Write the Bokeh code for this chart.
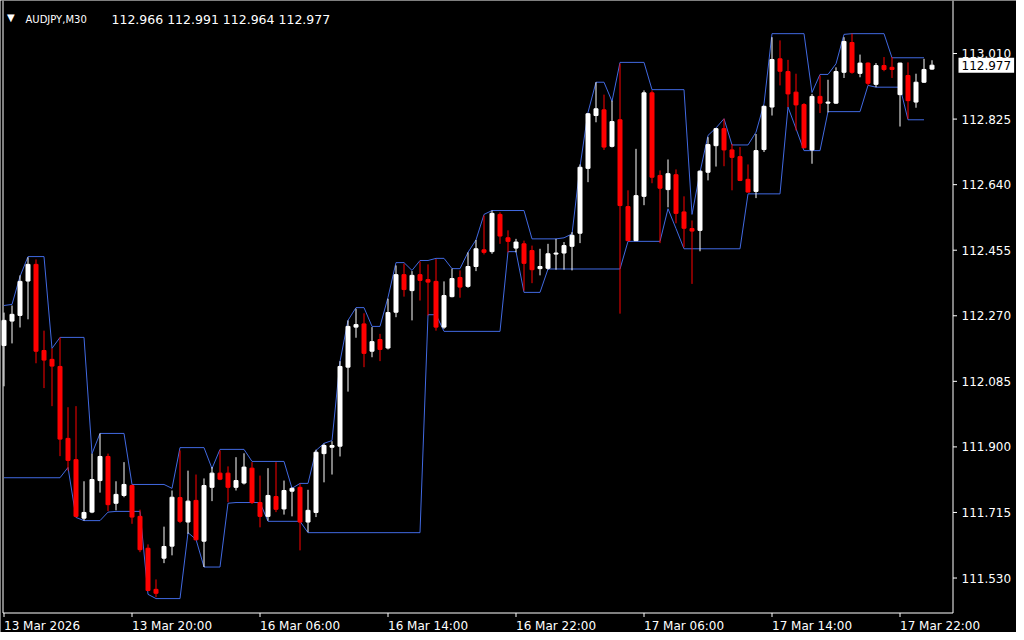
from bokeh.plotting import figure
from bokeh.models import Range1d, Label, ColumnDataSource
from bokeh.embed import file_html
from bokeh.resources import INLINE

symbol = "AUDJPY"
timeframe = "M30"

opens = [112.186, 112.255, 112.271, 112.368, 112.415, 112.172, 112.147, 112.127, 111.924, 111.864,
         111.699, 111.716, 111.805, 111.873, 111.741, 111.763, 111.791, 111.704, 111.614, 111.498,
         111.586, 111.620, 111.757, 111.688, 111.749, 111.634, 111.786, 111.826, 111.826, 111.786,
         111.798, 111.840, 111.743, 111.704, 111.760, 111.725, 111.775, 111.786, 111.688, 111.715,
         111.881, 111.899, 111.902, 112.125, 112.238, 112.247, 112.170, 112.203, 112.179, 112.280,
         112.386, 112.341, 112.386, 112.372, 112.367, 112.238, 112.324, 112.378, 112.353, 112.409,
         112.456, 112.451, 112.556, 112.490, 112.461, 112.473, 112.454, 112.403, 112.404, 112.444,
         112.447, 112.466, 112.503, 112.686, 112.835, 112.851, 112.748, 112.823, 112.578, 112.482,
         112.607, 112.899, 112.666, 112.626, 112.668, 112.563, 112.516, 112.511, 112.675, 112.750,
         112.798, 112.738, 112.719, 112.655, 112.621, 112.739, 112.859, 112.995, 112.959, 112.901,
         112.866, 112.738, 112.889, 112.870, 112.870, 112.957, 113.041, 112.954, 112.983, 112.923,
         112.976, 112.971, 112.894, 112.948, 112.873, 112.929, 112.966]
highs = [112.279, 112.299, 112.384, 112.435, 112.429, 112.228, 112.178, 112.209, 112.012, 112.015,
         111.803, 111.881, 111.938, 111.881, 111.803, 111.857, 111.794, 111.723, 111.625, 111.526,
         111.675, 111.777, 111.890, 111.833, 111.822, 111.811, 111.843, 111.890, 111.845, 111.871,
         111.882, 111.857, 111.819, 111.840, 111.857, 111.805, 111.786, 111.796, 111.779, 111.892,
         111.909, 111.916, 112.142, 112.257, 112.290, 112.277, 112.238, 112.219, 112.318, 112.412,
         112.417, 112.396, 112.423, 112.415, 112.430, 112.367, 112.403, 112.398, 112.449, 112.484,
         112.553, 112.567, 112.562, 112.511, 112.487, 112.482, 112.468, 112.459, 112.473, 112.487,
         112.478, 112.506, 112.697, 112.842, 112.929, 112.894, 112.877, 112.981, 112.624, 112.741,
         112.906, 112.906, 112.680, 112.711, 112.683, 112.607, 112.539, 112.680, 112.774, 112.800,
         112.826, 112.755, 112.746, 112.697, 112.783, 112.863, 113.056, 113.047, 112.992, 112.953,
         112.870, 112.896, 112.948, 112.936, 112.971, 113.056, 113.066, 113.007, 112.985, 112.983,
         113.000, 113.000, 112.984, 112.985, 112.953, 112.995, 112.991]
lows = [112.071, 112.192, 112.237, 112.260, 112.136, 112.066, 112.015, 111.874, 111.833, 111.701,
        111.692, 111.713, 111.771, 111.719, 111.721, 111.758, 111.683, 111.603, 111.493, 111.476,
        111.572, 111.594, 111.685, 111.655, 111.636, 111.561, 111.747, 111.806, 111.744, 111.777,
        111.794, 111.739, 111.673, 111.692, 111.716, 111.709, 111.704, 111.608, 111.659, 111.702,
        111.800, 111.822, 111.873, 112.056, 112.208, 112.125, 112.153, 112.142, 112.175, 112.266,
        112.324, 112.257, 112.313, 112.271, 112.228, 112.233, 112.322, 112.321, 112.349, 112.396,
        112.443, 112.445, 112.473, 112.449, 112.449, 112.341, 112.362, 112.384, 112.400, 112.400,
        112.400, 112.398, 112.475, 112.647, 112.816, 112.738, 112.745, 112.276, 112.481, 112.481,
        112.582, 112.644, 112.475, 112.576, 112.531, 112.463, 112.360, 112.452, 112.652, 112.691,
        112.692, 112.624, 112.650, 112.618, 112.602, 112.732, 112.835, 112.920, 112.859, 112.793,
        112.743, 112.699, 112.842, 112.844, 112.868, 112.941, 112.953, 112.943, 112.920, 112.915,
        112.960, 112.941, 112.804, 112.826, 112.857, 112.927, 112.964]
closes = [112.257, 112.274, 112.367, 112.415, 112.170, 112.145, 112.128, 111.922, 111.862, 111.704,
          111.715, 111.808, 111.873, 111.737, 111.766, 111.794, 111.702, 111.610, 111.495, 111.487,
          111.619, 111.758, 111.690, 111.747, 111.638, 111.791, 111.826, 111.809, 111.786, 111.805,
          111.843, 111.743, 111.704, 111.763, 111.724, 111.777, 111.783, 111.688, 111.721, 111.885,
          111.904, 111.904, 112.127, 112.240, 112.245, 112.164, 112.197, 112.175, 112.279, 112.386,
          112.344, 112.384, 112.370, 112.365, 112.238, 112.327, 112.375, 112.351, 112.409, 112.459,
          112.449, 112.559, 112.495, 112.480, 112.478, 112.418, 112.400, 112.409, 112.445, 112.447,
          112.468, 112.497, 112.689, 112.840, 112.854, 112.746, 112.818, 112.581, 112.482, 112.609,
          112.899, 112.661, 112.630, 112.671, 112.559, 112.517, 112.509, 112.678, 112.753, 112.798,
          112.738, 112.717, 112.652, 112.619, 112.736, 112.861, 112.993, 112.960, 112.896, 112.865,
          112.744, 112.889, 112.870, 112.873, 112.959, 113.044, 112.957, 112.983, 112.926, 112.976,
          112.965, 112.965, 112.983, 112.877, 112.929, 112.965, 112.977]

channel_upper = [112.299, 112.302, 112.381, 112.437, 112.437, 112.437, 112.178, 112.209, 112.209, 112.209,
                 112.209, 111.881, 111.938, 111.938, 111.938, 111.938, 111.794, 111.794, 111.794, 111.794,
                 111.794, 111.783, 111.898, 111.898, 111.898, 111.898, 111.839, 111.893, 111.893, 111.893,
                 111.893, 111.859, 111.859, 111.859, 111.859, 111.859, 111.783, 111.797, 111.797, 111.890,
                 111.910, 111.918, 112.141, 112.257, 112.293, 112.293, 112.240, 112.240, 112.322, 112.420,
                 112.420, 112.398, 112.426, 112.426, 112.432, 112.432, 112.403, 112.403, 112.449, 112.484,
                 112.556, 112.567, 112.567, 112.567, 112.567, 112.567, 112.487, 112.487, 112.487, 112.487,
                 112.490, 112.501, 112.691, 112.844, 112.929, 112.929, 112.875, 112.985, 112.985, 112.985,
                 112.985, 112.908, 112.908, 112.908, 112.908, 112.908, 112.556, 112.675, 112.779, 112.800,
                 112.826, 112.752, 112.752, 112.752, 112.788, 112.868, 113.066, 113.066, 113.066, 113.066,
                 113.066, 112.900, 112.951, 112.951, 112.981, 113.064, 113.066, 113.066, 113.066, 113.066,
                 113.066, 112.998, 112.998, 112.998, 112.998, 112.998]
channel_lower = [111.813, 111.813, 111.813, 111.813, 111.813, 111.813, 111.813, 111.813, 111.842, 111.701,
                 111.692, 111.692, 111.692, 111.716, 111.718, 111.718, 111.718, 111.718, 111.484, 111.472,
                 111.472, 111.472, 111.472, 111.658, 111.639, 111.561, 111.561, 111.561, 111.741, 111.743,
                 111.743, 111.743, 111.743, 111.690, 111.690, 111.690, 111.690, 111.690, 111.658, 111.658,
                 111.658, 111.658, 111.658, 111.658, 111.658, 111.658, 111.658, 111.658, 111.658, 111.658,
                 111.658, 111.658, 111.658, 112.273, 112.273, 112.226, 112.226, 112.226, 112.226, 112.226,
                 112.226, 112.226, 112.226, 112.451, 112.451, 112.336, 112.336, 112.336, 112.402, 112.402,
                 112.402, 112.402, 112.402, 112.402, 112.402, 112.402, 112.402, 112.402, 112.480, 112.480,
                 112.480, 112.480, 112.480, 112.572, 112.516, 112.459, 112.459, 112.459, 112.459, 112.459,
                 112.459, 112.459, 112.459, 112.614, 112.614, 112.614, 112.614, 112.614, 112.859, 112.798,
                 112.736, 112.736, 112.736, 112.846, 112.846, 112.846, 112.846, 112.846, 112.920, 112.915,
                 112.915, 112.915, 112.915, 112.823, 112.823, 112.823]

price_ticks = [111.530, 111.715, 111.900, 112.085, 112.270, 112.455, 112.640, 112.825, 113.010]
time_tick_bars = [0, 16, 32, 48, 64, 80, 96, 112]
time_tick_labels = ["13 Mar 2026", "13 Mar 20:00", "16 Mar 06:00", "16 Mar 14:00",
                    "16 Mar 22:00", "17 Mar 06:00", "17 Mar 14:00", "17 Mar 22:00"]

# ---- layout geometry (pixels) ----
W, H = 1016, 632
RIGHT_X = 952.5       # right border of the chart area (price scale to its right)
AXIS_Y = 612.5        # bottom border / time axis
LEFT_X = 2.5          # left border
TICK = 4
BAR_PX = 8.0
BAR0_PX = 3.5
TOP_PRICE = 113.1596
PX_PER_UNIT = 354.4
FONT = "DejaVu Sans"
FS = "12px"


def px_to_x(px):
    return (px - BAR0_PX) / BAR_PX


def py_to_y(py):
    return TOP_PRICE - py / PX_PER_UNIT


UP = "white"
DOWN = "#ff0000"
CHANNEL = "#4169e1"

p = figure(width=W, height=H, output_backend="svg", toolbar_location=None,
           x_range=Range1d(px_to_x(0), px_to_x(W)),
           y_range=Range1d(py_to_y(H), TOP_PRICE),
           x_axis_location=None, y_axis_location=None,
           min_border_left=0, min_border_top=0, min_border_bottom=0, min_border_right=0,
           background_fill_color="black", border_fill_color="black",
           outline_line_color=None)
p.xgrid.visible = False
p.ygrid.visible = False

# chart border: left, right and bottom edges
y_top, y_axis = py_to_y(0), py_to_y(AXIS_Y)
x_left, x_right = px_to_x(LEFT_X), px_to_x(RIGHT_X)
p.segment(x0=[x_left, x_right, x_left], y0=[y_top, y_top, y_axis],
          x1=[x_left, x_right, x_right], y1=[y_axis, y_axis, y_axis],
          line_color="white", line_width=1)

# price scale: tick marks and labels
p.segment(x0=[x_right] * len(price_ticks), y0=price_ticks,
          x1=[px_to_x(RIGHT_X + TICK)] * len(price_ticks), y1=price_ticks,
          line_color="white", line_width=1)
for v in price_ticks:
    p.add_layout(Label(x=px_to_x(RIGHT_X + 8.5), y=v, text=f"{v:.3f}", text_color="white",
                       text_font=FONT, text_font_size=FS, text_baseline="middle"))

# time scale: tick marks and labels (labels start at their tick)
p.segment(x0=time_tick_bars, y0=[y_axis] * len(time_tick_bars),
          x1=time_tick_bars, y1=[py_to_y(AXIS_Y + TICK)] * len(time_tick_bars),
          line_color="white", line_width=1)
for b, t in zip(time_tick_bars, time_tick_labels):
    p.add_layout(Label(x=b, y=py_to_y(AXIS_Y + 5.5), text=t, text_color="white", text_font=FONT,
                       text_font_size=FS, text_align="left", text_baseline="top"))

idx = list(range(len(opens)))
colors = [UP if c >= o else DOWN for o, c in zip(opens, closes)]
src = ColumnDataSource(dict(
    x=idx, high=highs, low=lows,
    top=[max(o, c) for o, c in zip(opens, closes)],
    bottom=[min(o, c) for o, c in zip(opens, closes)],
    color=colors))

p.line(list(range(len(channel_upper))), channel_upper, line_color=CHANNEL, line_width=1)
p.line(list(range(len(channel_lower))), channel_lower, line_color=CHANNEL, line_width=1)

p.segment(x0="x", y0="high", x1="x", y1="low", line_color="color", line_width=1, source=src)
p.vbar(x="x", width=0.5, top="top", bottom="bottom", fill_color="color",
       line_color="color", line_width=1, source=src)

quote = f"{opens[-1]:.3f} {highs[-1]:.3f} {lows[-1]:.3f} {closes[-1]:.3f}"
p.add_layout(Label(x=px_to_x(6.5), y=py_to_y(17), text="\u25bc", text_color="white",
                   text_font=FONT, text_font_size="10px", text_baseline="alphabetic"))
p.add_layout(Label(x=px_to_x(25), y=py_to_y(18.5), text=f"{symbol},{timeframe}", text_color="white",
                   text_font=FONT, text_font_size="10px", text_baseline="alphabetic"))
p.add_layout(Label(x=px_to_x(111), y=py_to_y(18.5), text=quote, text_color="white",
                   text_font=FONT, text_font_size="12.5px", text_baseline="alphabetic"))

# current price marker on the price scale
p.add_layout(Label(x=px_to_x(RIGHT_X + 5.5), y=closes[-1], text=f"{closes[-1]:.3f}", text_color="black",
                   text_font=FONT, text_font_size=FS, text_baseline="middle",
                   background_fill_color="white", padding=3))

open("out.html", "w").write(file_html(p, INLINE))
